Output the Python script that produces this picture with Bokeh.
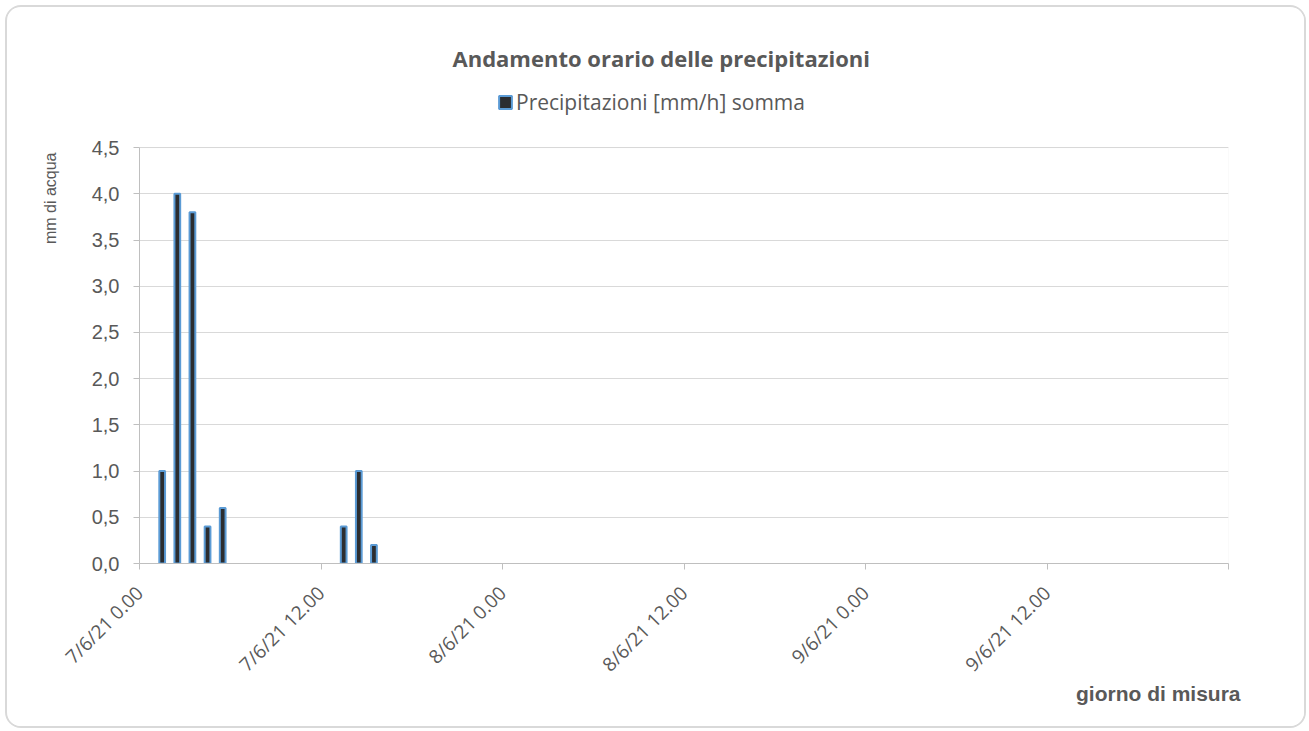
from bokeh.plotting import figure
from bokeh.models import (FixedTicker, Legend, LegendItem, Range1d, ColumnDataSource,
                          Title, BoxAnnotation)
from bokeh.layouts import column
from bokeh.transform import dodge
from bokeh.embed import file_html
from bokeh.resources import INLINE

# ---- data ----
hours = [1, 2, 3, 4, 5, 13, 14, 15]          # hours since 7/6/21 0.00
rain_mm = [1.0, 4.0, 3.8, 0.4, 0.6, 0.4, 1.0, 0.2]
x_tick_hours = [0, 12, 24, 36, 48, 60, 72]
x_tick_labels = ["7/6/21 0.00", "7/6/21 12.00", "8/6/21 0.00", "8/6/21 12.00",
                 "9/6/21 0.00", "9/6/21 12.00", ""]
y_ticks = [0.0, 0.5, 1.0, 1.5, 2.0, 2.5, 3.0, 3.5, 4.0, 4.5]
y_tick_labels = ["0,0", "0,5", "1,0", "1,5", "2,0", "2,5", "3,0", "3,5", "4,0", "4,5"]

GREY = "#595959"
src = ColumnDataSource(dict(h=hours, v=rain_mm))

# frame extends above the 4.5 line to host the legend
p = figure(frame_width=1089, frame_height=476, output_backend="svg", toolbar_location=None,
           x_range=Range1d(0, 72), y_range=Range1d(0, 5.15),
           min_border_left=132, min_border_right=76, min_border_top=80, min_border_bottom=163)
p.outline_line_color = None
p.background_fill_color = "white"
p.border_fill_color = "white"

# plot-area rectangle (right edge line of the chart area)
p.add_layout(BoxAnnotation(left=0, right=72, bottom=0, top=4.5, fill_alpha=0,
                           line_color="#d9d9d9", line_width=1, level="underlay"))

r = p.vbar(x=dodge("h", 0.5), top="v", width=0.38, source=src,
           fill_color="#2b2d30", line_color="#5b9bd5", line_width=2)

# title
p.title.text = "Andamento orario delle precipitazioni"
p.title.align = "left"
p.title.offset = 313
p.title.text_font = "Open Sans"
p.title.text_font_size = "22px"
p.title.text_font_style = "bold"
p.title.text_color = GREY
p.title.standoff = 29

legend = Legend(items=[LegendItem(label="Precipitazioni [mm/h] somma", renderers=[r])],
                location=(358, 447), orientation="horizontal",
                label_text_font="Open Sans", label_text_font_size="21px",
                label_text_color=GREY, glyph_width=16, glyph_height=16,
                label_standoff=3, padding=0, margin=0,
                border_line_color=None, background_fill_alpha=0)
p.add_layout(legend, "center")

# x axis
xa = p.xaxis[0]
xa.ticker = FixedTicker(ticks=x_tick_hours)
xa.major_label_overrides = {h: lab for h, lab in zip(x_tick_hours, x_tick_labels)}
xa.major_label_orientation = 0.785398
xa.major_label_text_font = "Open Sans"
xa.major_label_text_font_size = "19px"
xa.major_label_text_color = GREY
xa.major_label_standoff = 20
xa.axis_line_color = "#bfbfbf"
xa.major_tick_line_color = "#bfbfbf"
xa.major_tick_out = 6
xa.major_tick_in = 0
xa.minor_tick_line_color = None

xlab = Title(text="giorno di misura", align="right", offset=-12,
             text_font="Liberation Sans", text_font_size="21px",
             text_font_style="bold", text_color=GREY, standoff=-20)
p.add_layout(xlab, "below")

# y axis
ya = p.yaxis[0]
ya.bounds = (0, 4.5)
ya.ticker = FixedTicker(ticks=y_ticks)
ya.major_label_overrides = {t: lab for t, lab in zip(y_ticks, y_tick_labels)}
ya.major_label_text_font = "Liberation Sans"
ya.major_label_text_font_size = "20px"
ya.major_label_text_color = GREY
ya.major_label_standoff = 14
ya.axis_line_color = "#bfbfbf"
ya.major_tick_line_color = "#bfbfbf"
ya.major_tick_out = 6
ya.major_tick_in = 0
ya.minor_tick_line_color = None

ylab = Title(text="mm di acqua", align="right", offset=65,
             text_font="Liberation Sans", text_font_size="16px",
             text_font_style="normal", text_color=GREY, standoff=60)
p.add_layout(ylab, "left")

p.xgrid.grid_line_color = None
p.ygrid.ticker = FixedTicker(ticks=y_ticks)
p.ygrid.grid_line_color = "#d9d9d9"
p.ygrid.grid_line_width = 1

layout = column(p, styles={"border": "2px solid #d9d9d9", "border-radius": "16px",
                           "overflow": "hidden", "margin": "5px 0 0 5px"})

open("out.html", "w").write(file_html(layout, INLINE))
